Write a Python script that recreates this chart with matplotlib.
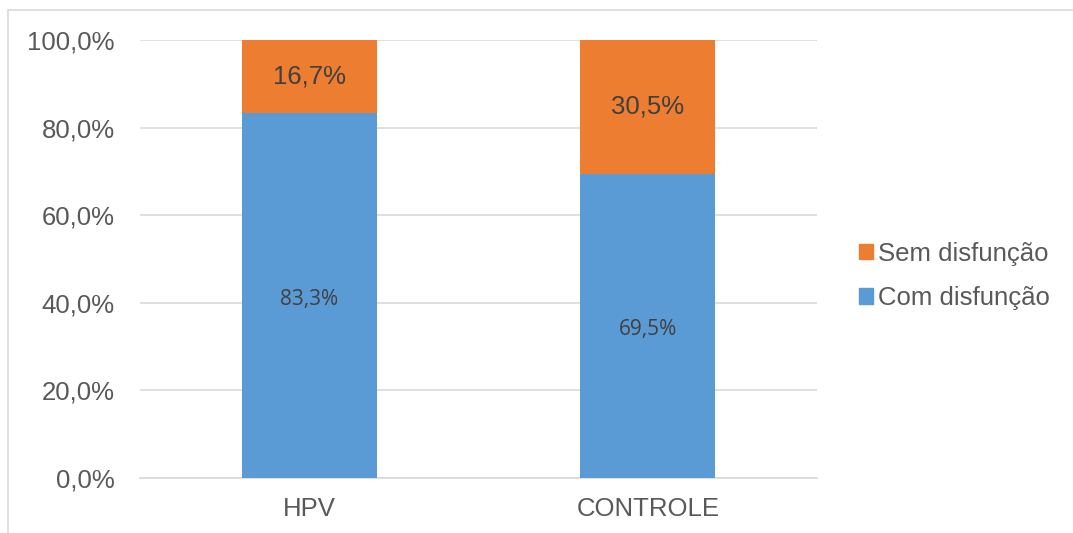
import matplotlib.pyplot as plt
from matplotlib.patches import Rectangle, Patch
from matplotlib.ticker import FuncFormatter

# Data
categories = ['HPV', 'CONTROLE']
com_disfuncao = [83.3, 69.5]
sem_disfuncao = [16.7, 30.5]

blue = '#5B9BD5'
orange = '#ED7D31'
grid_gray = '#D9D9D9'
text_gray = '#595959'
label_gray = '#404040'

W, H = 1073, 533
fig = plt.figure(figsize=(W / 100, H / 100), dpi=100)
plt.rcParams['font.family'] = ['Liberation Sans', 'DejaVu Sans']

# outer chart border
fig.patches.append(Rectangle((8 / W, -0.02), 1.2, 1 - 10 / H + 0.02, transform=fig.transFigure,
                             fill=False, edgecolor=grid_gray, linewidth=1.2))

ax = fig.add_axes([140 / W, 1 - 478 / H, (817 - 140) / W, (478 - 40) / H])

x = range(len(categories))
b1 = ax.bar(x, com_disfuncao, width=0.4, color=blue, zorder=3)
b2 = ax.bar(x, sem_disfuncao, width=0.4, bottom=com_disfuncao, color=orange, zorder=3)

ax.set_xlim(-0.5, 1.5)
ax.set_ylim(0, 100)
ax.set_yticks(range(0, 101, 20))
ax.yaxis.set_major_formatter(FuncFormatter(lambda v, p: f'{v:.1f}%'.replace('.', ',')))
ax.set_xticks(list(x))
ax.set_xticklabels(categories)
ax.tick_params(axis='both', length=0, labelsize=18.5, colors=text_gray)
ax.tick_params(axis='x', pad=14)
ax.tick_params(axis='y', pad=18)
ax.grid(axis='y', color=grid_gray, linewidth=1.2, zorder=0)
for s in ['top', 'right', 'left']:
    ax.spines[s].set_visible(False)
ax.spines['bottom'].set_color(grid_gray)
ax.spines['bottom'].set_linewidth(1.2)

for i in x:
    ax.text(i, com_disfuncao[i] / 2 - 0.8, f'{com_disfuncao[i]:.1f}%'.replace('.', ','),
            ha='center', va='center', fontsize=15, color=label_gray,
            family=['Open Sans', 'DejaVu Sans'], zorder=4)
    ax.text(i, com_disfuncao[i] + sem_disfuncao[i] / 2, f'{sem_disfuncao[i]:.1f}%'.replace('.', ','),
            ha='center', va='center', fontsize=18.5, color=label_gray, zorder=4)

handles = [Patch(color=orange), Patch(color=blue)]
fig.legend(handles, ['Sem disfunção', 'Com disfunção'], loc='center left',
           bbox_to_anchor=(846 / W, 1 - 276 / H), frameon=False, fontsize=18.5,
           labelcolor=text_gray, handlelength=0.55, handleheight=0.55,
           handletextpad=0.2, labelspacing=0.8, borderpad=0)

fig.savefig('out.png', dpi=100)
